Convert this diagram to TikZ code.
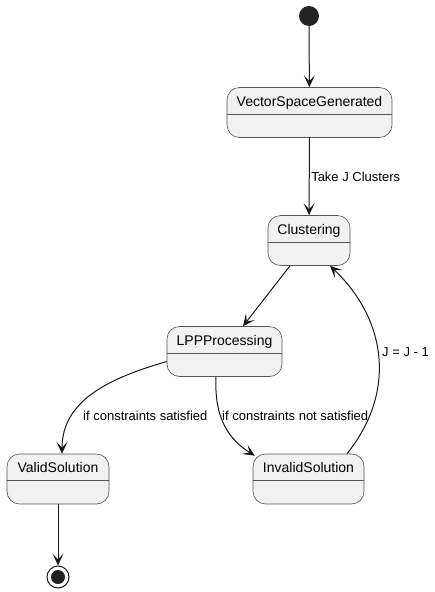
\documentclass[tikz,border=0pt]{standalone}
\usepackage{fontspec}
\setmainfont{Liberation Sans}
\usetikzlibrary{arrows.meta}
\definecolor{ln}{HTML}{181818}
\definecolor{bd}{HTML}{555555}
\definecolor{bg}{HTML}{F1F1F1}
\definecolor{dot}{HTML}{222222}
\begin{document}
\begin{tikzpicture}[x=1pt,y=1pt,
  statebox/.style={draw=bd, line width=0.6pt, fill=bg, rounded corners=12.5pt, minimum height=50pt, inner sep=0pt},
  title/.style={font=\fontsize{14}{16}\selectfont, text=black, inner sep=0pt, anchor=base},
  lbl/.style={font=\fontsize{13}{15}\selectfont, text=black, inner sep=0pt},
  divider/.style={draw=bd, line width=0.6pt},
  conn/.style={draw=ln, line width=1pt, -{Stealth[length=12pt,width=11pt,inset=6pt]}}]
\useasboundingbox (0,0) rectangle (434,-592);
% start
\node[circle, fill=dot, minimum size=20pt, inner sep=0pt] (start) at (309,-16) {};
% states
\node[statebox, minimum width=165pt] (vsg) at (309.5,-112.5) {};
\node[statebox, minimum width=82pt] (clu) at (309,-240.5) {};
\node[statebox, minimum width=115pt] (lpp) at (224.5,-351.5) {};
\node[statebox, minimum width=102pt] (valid) at (58,-479) {};
\node[statebox, minimum width=111pt] (inv) at (308.5,-479) {};
\foreach \n/\t in {vsg/VectorSpaceGenerated, clu/Clustering, lpp/LPPProcessing, valid/ValidSolution, inv/InvalidSolution}{
  \node[title] (\n t) at ([yshift=-19pt]\n.north) {\t};
  \draw[divider] ([yshift=-27pt]\n.north west) -- ([yshift=-27pt]\n.north east);
}
% end
\node[circle, draw=ln, line width=1pt, minimum size=22pt, inner sep=0pt] (end) at (58,-577) {};
\node[circle, fill=dot, minimum size=14pt, inner sep=0pt] (endin) at (end.center) {};
% connectors
\draw[conn] (start) -- (vsg);
\draw[conn] (vsg) -- node[lbl, anchor=west, xshift=1.5pt] {Take J Clusters} (clu);
\draw[conn] ([xshift=-19pt]clu.south) -- ([xshift=18.5pt]lpp.north);
\draw[conn] ([yshift=-10pt]lpp.west) .. controls (110,-378) and (62,-400) .. ([xshift=4pt]valid.north);
\node[lbl, anchor=west] (l1) at (83,-416) {if constraints satisfied};
\draw[conn] ([xshift=-8.5pt]lpp.south) .. controls (214,-420) and (230,-440) .. ([xshift=2pt,yshift=-2pt]inv.north west);
\node[lbl, anchor=west] (l2) at (222,-416) {if constraints not satisfied};
\draw[conn] ([xshift=38.5pt]inv.north) .. controls (398,-390) and (385,-318) .. ([xshift=21pt]clu.south);
\node[lbl, anchor=west] (l3) at (382,-352) {J = J - 1};
\draw[conn] (valid) -- (end);
\end{tikzpicture}
\end{document}
